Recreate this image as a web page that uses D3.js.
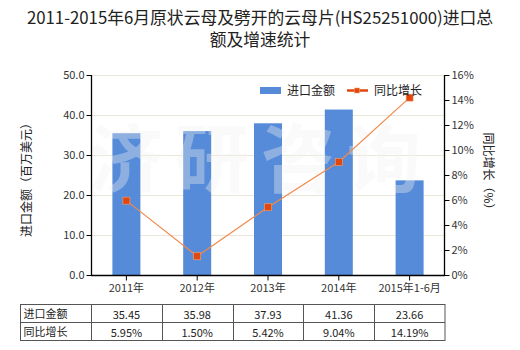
<!DOCTYPE html>
<html>
<head>
<meta charset="utf-8">
<script src="https://cdn.jsdelivr.net/npm/d3@7"></script>
<style>
  html, body { margin: 0; padding: 0; background: #fff; }
  svg { display: block; font-family: "Microsoft YaHei", "Noto Sans CJK SC", sans-serif; }
</style>
</head>
<body>
<svg id="chart" width="520" height="350"></svg>
<script>
// Data
const categories = ["2011年", "2012年", "2013年", "2014年", "2015年1-6月"];
const importValues = [35.45, 35.98, 37.93, 41.36, 23.66];
const growthRates = [5.95, 1.50, 5.42, 9.04, 14.19];
const leftTicks = [0, 10, 20, 30, 40, 50];
const rightTicks = [0, 2, 4, 6, 8, 10, 12, 14, 16];
const titleLines = ["2011-2015年6月原状云母及劈开的云母片(HS25251000)进口总", "额及增速统计"];
const seriesNames = ["进口金额", "同比增长"];
const leftTitle = "进口金额（百万美元）";
const rightTitle = "同比增长（%）";
const watermark = ["济", "研", "咨", "询"];

const svg = d3.select("#chart");
const plot = { left: 91, right: 445, top: 75, bottom: 275 };

const x = d3.scaleBand().domain(categories).range([plot.left, plot.right]);
const yL = d3.scaleLinear().domain([0, 50]).range([plot.bottom, plot.top]);
const yR = d3.scaleLinear().domain([0, 16]).range([plot.bottom, plot.top]);

const barColor = "#558bd8";
const lineColor = "#f08a4b";
const markerColor = "#e2470f";

// Title
svg.append("g").selectAll("text").data(titleLines).join("text")
  .attr("x", 260).attr("y", (d, i) => 24 + i * 22)
  .attr("text-anchor", "middle")
  .attr("font-size", 16.8).attr("fill", "#222")
  .text(d => d);

// Grid lines
svg.append("g").selectAll("line").data(leftTicks.slice(1)).join("line")
  .attr("x1", plot.left).attr("x2", plot.right)
  .attr("y1", d => yL(d) + 0.5).attr("y2", d => yL(d) + 0.5)
  .attr("stroke", "#ebe7d6").attr("stroke-width", 1);

// Bars
const barW = 28;
svg.append("g").selectAll("rect").data(importValues).join("rect")
  .attr("x", (d, i) => x(categories[i]) + x.bandwidth() / 2 - barW / 2)
  .attr("y", d => yL(d))
  .attr("width", barW)
  .attr("height", d => yL(0) - yL(d))
  .attr("fill", barColor);

// Watermark
svg.append("g").selectAll("text").data(watermark).join("text")
  .attr("x", (d, i) => 126 + i * 86)
  .attr("y", 186)
  .attr("text-anchor", "middle")
  .attr("font-size", 74).attr("font-weight", 700)
  .attr("fill", "#f0f0f0").attr("fill-opacity", 0.36)
  .text(d => d);

// Growth line
const lineGen = d3.line()
  .x((d, i) => x(categories[i]) + x.bandwidth() / 2)
  .y(d => yR(d));
svg.append("path").datum(growthRates)
  .attr("d", lineGen)
  .attr("fill", "none").attr("stroke", lineColor).attr("stroke-width", 1.2);

const mk = 7;
svg.append("g").selectAll("rect").data(growthRates).join("rect")
  .attr("x", (d, i) => x(categories[i]) + x.bandwidth() / 2 - mk / 2)
  .attr("y", d => yR(d) - mk / 2)
  .attr("width", mk).attr("height", mk)
  .attr("fill", markerColor).attr("stroke", "#f4a46e").attr("stroke-width", 0.6);

// Axes
const fmt1 = d3.format(".1f");
const leftAxis = d3.axisLeft(yL).tickValues(leftTicks).tickFormat(fmt1).tickSize(5).tickPadding(2);
const gL = svg.append("g").attr("transform", `translate(${plot.left + 0.5},0)`).call(leftAxis);

const rightAxis = d3.axisRight(yR).tickValues(rightTicks).tickFormat(d => d + "%").tickSize(5).tickPadding(2);
const gR = svg.append("g").attr("transform", `translate(${plot.right - 0.5},0)`).call(rightAxis);

const bottomAxis = d3.axisBottom(x).tickSize(5).tickPadding(4);
const gB = svg.append("g").attr("transform", `translate(0,${plot.bottom + 0.5})`).call(bottomAxis);

[gL, gR, gB].forEach(g => {
  g.selectAll("path.domain").attr("stroke", "#000").attr("stroke-width", 1.3);
  g.selectAll(".tick line").attr("stroke", "#000");
  g.selectAll(".tick text").attr("font-size", 11).attr("fill", "#333")
    .attr("font-family", "\"Microsoft YaHei\", \"Noto Sans CJK SC\", sans-serif");
});
gL.select("path.domain").attr("d", `M0,${plot.top}V${plot.bottom}`);
gR.select("path.domain").attr("d", `M0,${plot.top}V${plot.bottom}`);
gB.select("path.domain").attr("d", `M${plot.left},0H${plot.right}`);

// Axis titles
svg.append("text")
  .attr("transform", `translate(31,177) rotate(-90)`)
  .attr("text-anchor", "middle").attr("font-size", 12).attr("fill", "#222")
  .text(leftTitle);
svg.append("text")
  .attr("transform", `translate(484,174) rotate(90)`)
  .attr("text-anchor", "middle").attr("font-size", 12).attr("fill", "#222")
  .text(rightTitle);

// Legend
const lg = svg.append("g");
lg.append("rect").attr("x", 260).attr("y", 87).attr("width", 21).attr("height", 7).attr("fill", barColor);
lg.append("text").attr("x", 287).attr("y", 95).attr("font-size", 12).attr("fill", "#222").text(seriesNames[0]);
lg.append("line").attr("x1", 347).attr("x2", 368).attr("y1", 90.5).attr("y2", 90.5)
  .attr("stroke", markerColor).attr("stroke-width", 2.5);
lg.append("rect").attr("x", 354.5).attr("y", 88).attr("width", 5).attr("height", 5)
  .attr("fill", markerColor).attr("stroke", "#f4a46e").attr("stroke-width", 0.6);
lg.append("text").attr("x", 374).attr("y", 95).attr("font-size", 12).attr("fill", "#222").text(seriesNames[1]);

// Data table
const tableTop = 304.5, rowH = 18, tableLeft = 20.5;
const colEdges = [tableLeft].concat(categories.map(c => x(c))).concat([plot.right]);
const tg = svg.append("g");
const rows = [
  { label: seriesNames[0], values: importValues.map(v => v.toFixed(2)) },
  { label: seriesNames[1], values: growthRates.map(v => v.toFixed(2) + "%") }
];
tg.append("rect").attr("x", tableLeft).attr("y", tableTop)
  .attr("width", plot.right - tableLeft).attr("height", rowH * 2)
  .attr("fill", "none").attr("stroke", "#555").attr("stroke-width", 1);
tg.append("line").attr("x1", tableLeft).attr("x2", plot.right)
  .attr("y1", tableTop + rowH).attr("y2", tableTop + rowH).attr("stroke", "#555");
colEdges.slice(1, -1).forEach(cx => {
  tg.append("line").attr("x1", Math.round(cx) + 0.5).attr("x2", Math.round(cx) + 0.5)
    .attr("y1", tableTop).attr("y2", tableTop + rowH * 2).attr("stroke", "#555");
});
rows.forEach((r, ri) => {
  const yb = tableTop + ri * rowH + 14;
  tg.append("text").attr("x", tableLeft + 3).attr("y", yb - 1)
    .attr("font-size", 11).attr("fill", "#222").text(r.label);
  r.values.forEach((v, i) => {
    tg.append("text").attr("x", x(categories[i]) + x.bandwidth() / 2).attr("y", yb)
      .attr("text-anchor", "middle").attr("font-size", 11).attr("fill", "#222").text(v);
  });
});
</script>
</body>
</html>
